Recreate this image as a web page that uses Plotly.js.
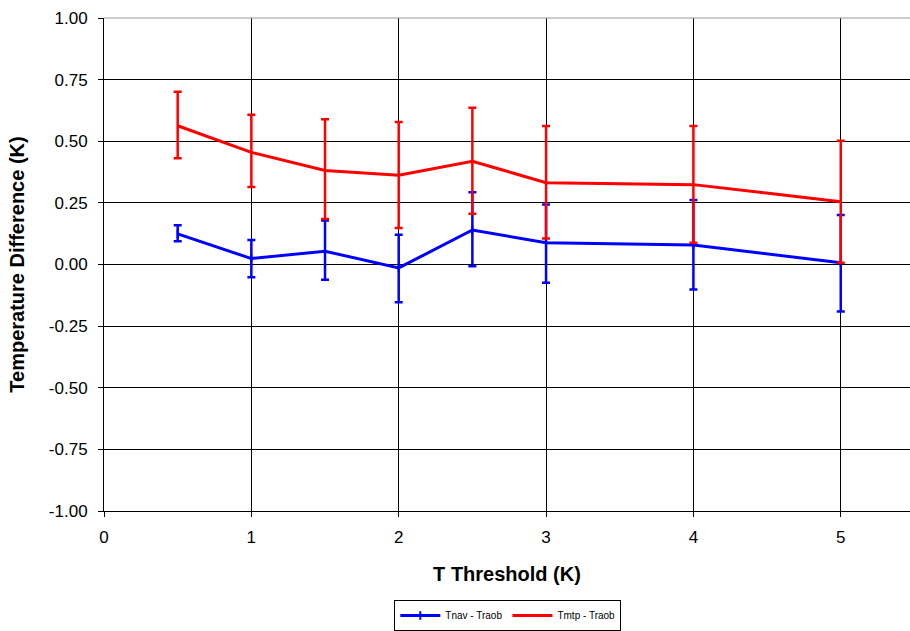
<!DOCTYPE html>
<html>
<head>
<meta charset="utf-8">
<script src="https://cdn.plot.ly/plotly-3.0.1.min.js"></script>
<style>html,body{margin:0;padding:0;background:#fff;}#chart{width:910px;height:631px;}</style>
</head>
<body>
<div id="chart"></div>
<script>
const xThreshold = [0.5, 1, 1.5, 2, 2.5, 3, 4, 5];

const navMean  = [0.124, 0.024, 0.054, -0.014, 0.140, 0.088, 0.079, 0.007];
const navUpper = [0.159, 0.099, 0.178, 0.121, 0.293, 0.243, 0.262, 0.201];
const navLower = [0.094, -0.052, -0.062, -0.153, -0.007, -0.074, -0.101, -0.191];

const mtpMean  = [0.563, 0.455, 0.381, 0.362, 0.419, 0.332, 0.324, 0.255];
const mtpUpper = [0.701, 0.607, 0.589, 0.578, 0.636, 0.562, 0.562, 0.502];
const mtpLower = [0.431, 0.314, 0.185, 0.148, 0.206, 0.105, 0.088, 0.007];

const yTicks = [-1, -0.75, -0.5, -0.25, 0, 0.25, 0.5, 0.75, 1];
const yTickText = ["-1.00", "-0.75", "-0.50", "-0.25", "0.00", "0.25", "0.50", "0.75", "1.00"];
const xTicks = [0, 1, 2, 3, 4, 5];

const plus = (u, m) => u.map((v, i) => v - m[i]);
const minus = (l, m) => l.map((v, i) => m[i] - v);

const traces = [
  {
    x: xThreshold, y: navMean, name: "Tnav - Traob", type: "scatter", mode: "lines+markers",
    line: {color: "#0000ff", width: 3},
    marker: {symbol: "line-ns-open", size: 6, color: "#0000ff", line: {color: "#0000ff", width: 2}},
    error_y: {type: "data", symmetric: false, array: plus(navUpper, navMean), arrayminus: minus(navLower, navMean),
              color: "#0000ff", thickness: 2.5, width: 4}
  },
  {
    x: xThreshold, y: mtpMean, name: "Tmtp - Traob", type: "scatter", mode: "lines",
    line: {color: "#ff0000", width: 3},
    error_y: {type: "data", symmetric: false, array: plus(mtpUpper, mtpMean), arrayminus: minus(mtpLower, mtpMean),
              color: "#ff0000", thickness: 2.5, width: 4}
  }
];

const layout = {
  width: 910, height: 631,
  margin: {l: 104, r: 0, t: 18, b: 120, autoexpand: false},
  paper_bgcolor: "#ffffff", plot_bgcolor: "#ffffff",
  font: {family: "Liberation Sans, Arial, sans-serif", color: "#000000", size: 17},
  showlegend: true,
  legend: {
    orientation: "h", x: 0.501, xanchor: "center", y: 0, yanchor: "bottom", yref: "container",
    bordercolor: "#000000", borderwidth: 1, font: {size: 10},
    itemwidth: 40, tracegroupgap: 0
  },
  xaxis: {
    range: [0, 5.47], tickvals: xTicks, ticktext: xTicks.map(String),
    showgrid: true, gridcolor: "#000000", gridwidth: 1,
    showline: true, linecolor: "#000000", linewidth: 1,
    ticks: "outside", ticklen: 5, tickcolor: "#000000", ticklabelstandoff: 6,
    zeroline: false, tickfont: {size: 17}, automargin: false,
    title: {text: "<b>T Threshold (K)</b>", font: {size: 20}, standoff: 20}
  },
  yaxis: {
    range: [-1, 1], tickvals: yTicks, ticktext: yTickText,
    showgrid: true, gridcolor: "#000000", gridwidth: 1,
    showline: true, linecolor: "#000000", linewidth: 1,
    ticks: "outside", ticklen: 5, tickcolor: "#000000", ticklabelstandoff: 7,
    zeroline: false, tickfont: {size: 17}, automargin: false,
    title: {text: "<b>Temperature Difference (K)</b>", font: {size: 20}, standoff: 18}
  },
  shapes: [
    {type: "line", xref: "paper", yref: "paper", x0: 0, x1: 1, y0: 1, y1: 1, line: {color: "#999999", width: 1}}
  ]
};

Plotly.newPlot("chart", traces, layout, {displayModeBar: false, staticPlot: true});
</script>
</body>
</html>
